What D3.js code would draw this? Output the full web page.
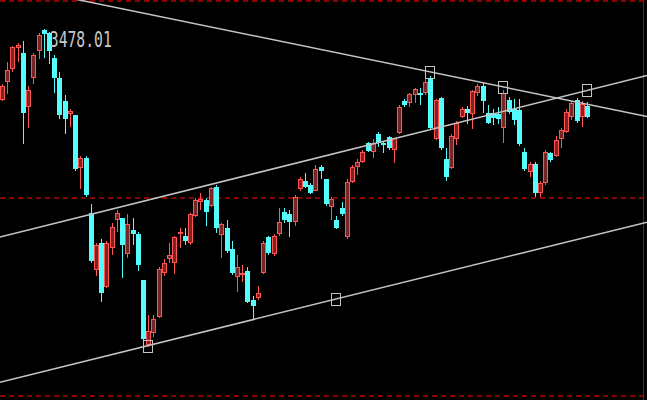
<!DOCTYPE html>
<html>
<head>
<meta charset="utf-8">
<script src="https://cdn.jsdelivr.net/npm/d3@7"></script>
<style>
html,body{margin:0;padding:0;background:#000;overflow:hidden;}
svg{display:block;}
</style>
</head>
<body>
<svg id="chart" width="647" height="400"></svg>
<script>
// ---- data (index values) ----
const opens = [3336,3372,3398,3440,3430,3322,3380,3434,3476,3470,3420,3380,3334,3308,3306,3200,3220,3110,2996,3050,
2962,3040,3096,3100,3028,3076,3068,2976,2846,2870,2902,2990,3018,3010,3068,3064,3050,3104,3132,3136,
3124,3162,3066,3080,3038,2982,2988,2994,2936,2940,2990,3062,3028,3068,3112,3108,3092,3158,3174,3166,
3154,3202,3178,3122,3096,3120,3062,3172,3202,3212,3250,3232,3268,3250,3262,3236,3270,3334,3330,3346,
3350,3350,3380,3258,3340,3218,3200,3258,3302,3318,3308,3350,3364,3310,3310,3308,3280,3336,3318,3316,
3232,3192,3208,3150,3170,3230,3224,3258,3272,3302,3336,3302,3324];
const highs = [3368,3412,3444,3450,3454,3364,3430,3470,3478.01,3472,3426,3392,3346,3318,3306,3224,3224,3128,3050,3058,
3054,3090,3116,3100,3108,3100,3072,2976,2906,2906,3002,3018,3050,3064,3080,3080,3110,3140,3150,3140,
3162,3166,3090,3096,3054,3026,3006,3002,2944,2964,3054,3064,3068,3120,3120,3116,3146,3182,3190,3170,
3206,3206,3178,3142,3104,3132,3178,3206,3218,3236,3252,3258,3272,3252,3264,3260,3326,3338,3350,3360,
3360,3378,3384,3338,3342,3240,3268,3294,3322,3324,3356,3368,3370,3326,3318,3322,3356,3342,3338,3338,
3240,3212,3212,3174,3236,3232,3264,3280,3318,3334,3340,3334,3332];
const lows = [3334,3348,3392,3412,3248,3280,3368,3418,3420,3408,3350,3298,3268,3282,3194,3158,3142,3010,2984,2932,
2960,3026,3072,2980,3020,3046,2994,2856,2842,2862,2900,2984,3010,2988,3040,3046,3046,3102,3116,3084,
3122,3070,3020,3030,2986,2952,2972,2930,2898,2936,2988,3026,3024,3064,3090,3062,3084,3154,3160,3148,
3154,3178,3124,3096,3078,3104,3058,3170,3186,3210,3232,3220,3242,3230,3236,3210,3268,3322,3322,3330,
3326,3346,3276,3256,3236,3174,3198,3246,3300,3288,3278,3344,3310,3288,3286,3288,3250,3308,3286,3244,
3194,3182,3142,3142,3166,3212,3222,3240,3270,3296,3290,3282,3300];
const closes = [3364,3396,3442,3446,3310,3356,3426,3466,3468,3434,3380,3306,3298,3314,3198,3220,3146,3014,3046,2950,
3050,3082,3110,3046,3088,3068,3006,2858,2874,2898,2998,3010,3026,3062,3072,3054,3108,3136,3138,3112,
3160,3080,3088,3034,2990,3002,2990,2932,2924,2950,3050,3030,3064,3092,3096,3092,3142,3178,3162,3150,
3198,3194,3128,3138,3080,3108,3172,3202,3212,3232,3234,3250,3250,3246,3240,3260,3322,3326,3348,3358,
3348,3372,3280,3336,3240,3182,3264,3290,3318,3310,3354,3364,3334,3290,3300,3298,3350,3312,3296,3248,
3198,3208,3150,3170,3232,3216,3256,3276,3312,3330,3294,3328,3302];

// horizontal reference levels (dashed)
const gridLevels = [3534, 3140, 2744];
// trend lines: two anchor points each (candle index, price)
const trendStarts = [[28, 2845], [0, 3063], [82, 3392]];
const trendEnds   = [[64, 2938], [112, 3355], [96, 3362]];
// anchor markers (candle index, line number)
const markers = [[28,0],[64,0],[112,1],[82,2],[96,2]];
const maxLabel = "3478.01";

// ---- chart ----
const W = 647, H = 400;
const svg = d3.select("#chart");
svg.append("rect").attr("width", W).attr("height", H).attr("fill", "#000");

const n = opens.length;
const x = d3.scaleLinear().domain([0, n - 1]).range([2, 587]);
const y = d3.scaleLinear().domain([2736, 3536]).range([H, 0]);

const candles = d3.range(n).map(i => ({i, o: opens[i], h: highs[i], l: lows[i], c: closes[i]}));

// dashed level lines
svg.append("g").selectAll("line").data(gridLevels).join("line")
  .attr("x1", 0).attr("x2", W)
  .attr("y1", d => y(d)).attr("y2", d => y(d))
  .attr("stroke", "#8c0000").attr("stroke-width", 2)
  .attr("stroke-dasharray", "5,4");

// right edge line
svg.append("line").attr("x1", 643.5).attr("x2", 643.5).attr("y1", 0).attr("y2", H)
  .attr("stroke", "#b80000").attr("stroke-width", 1);

const UP = "#ff5454", DOWN = "#54fcfc";
const g = svg.append("g").attr("shape-rendering", "crispEdges");
candles.forEach(d => {
  const cx = Math.round(x(d.i));
  const up = d.c >= d.o;
  const top = Math.round(y(Math.max(d.o, d.c))), bot = Math.round(y(Math.min(d.o, d.c)));
  const hi = Math.round(y(d.h)), lo = Math.round(y(d.l));
  if (up) {
    g.append("line").attr("x1", cx + 0.5).attr("x2", cx + 0.5)
      .attr("y1", hi).attr("y2", top).attr("stroke", UP);
    g.append("line").attr("x1", cx + 0.5).attr("x2", cx + 0.5)
      .attr("y1", bot).attr("y2", lo).attr("stroke", UP);
    g.append("rect").attr("x", cx - 1.5).attr("width", 4)
      .attr("y", top + 0.5).attr("height", Math.max(1, bot - top - 1))
      .attr("fill", "#7a2424").attr("stroke", UP).attr("stroke-width", 1);
  } else {
    g.append("line").attr("x1", cx + 0.5).attr("x2", cx + 0.5)
      .attr("y1", hi).attr("y2", lo).attr("stroke", DOWN);
    g.append("rect").attr("x", cx - 2).attr("width", 5)
      .attr("y", top).attr("height", Math.max(2, bot - top))
      .attr("fill", DOWN);
  }
});

// trend lines
const lineFn = (k, idx) => {
  const [i1, p1] = trendStarts[k], [i2, p2] = trendEnds[k];
  return p1 + (p2 - p1) * (idx - i1) / (i2 - i1);
};
const iMin = x.invert(0), iMax = x.invert(W);
const lg = svg.append("g");
trendStarts.forEach((_, k) => {
  lg.append("line")
    .attr("x1", x(iMin)).attr("y1", y(lineFn(k, iMin)))
    .attr("x2", x(iMax)).attr("y2", y(lineFn(k, iMax)))
    .attr("stroke", "#c4c4c4").attr("stroke-width", 1.5);
});
lg.selectAll("rect.mk").data(markers).join("rect").attr("class", "mk")
  .attr("x", d => Math.round(x(d[0])) - 4.5)
  .attr("y", d => Math.round(y(lineFn(d[1], d[0]))) - 5.5)
  .attr("width", 9).attr("height", 12)
  .attr("fill", "none").attr("stroke", "#c4c4c4").attr("stroke-width", 1);

// max label
const iMax9 = highs.indexOf(d3.max(highs));
svg.append("text")
  .attr("x", x(iMax9) + 6).attr("y", y(highs[iMax9]) + 18)
  .attr("font-family", "DejaVu Sans Mono").attr("font-size", 22)
  .attr("textLength", 62).attr("lengthAdjust", "spacingAndGlyphs")
  .attr("fill", "#c8c8c8").text(maxLabel);
</script>
</body>
</html>
